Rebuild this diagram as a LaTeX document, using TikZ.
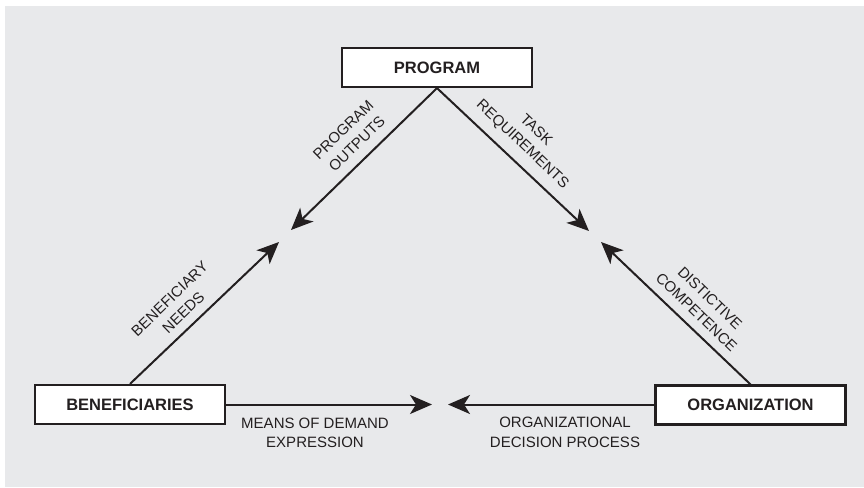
\documentclass[tikz,border=0pt]{standalone}
\usepackage{fontspec}
\setmainfont{Liberation Sans}
\usetikzlibrary{arrows.meta, positioning}
\definecolor{bggray}{RGB}{232,233,235}
\definecolor{inkgray}{RGB}{35,31,32}

\begin{document}
\begin{tikzpicture}[x=1pt, y=-1pt,
        actor/.style={draw=inkgray, line width=2.2pt, fill=white, inner sep=0pt,
            minimum width=190pt, minimum height=39pt, text=inkgray,
            font=\bfseries\fontsize{16.5}{19}\selectfont},
        flow/.style={draw=inkgray, line width=2pt,
            -{Stealth[length=22pt, width=19pt, inset=6pt]}},
        lbl/.style={align=center, inner sep=0pt, text=inkgray,
            font=\fontsize{15}{19.5}\selectfont}]
        \fill[bggray] (5,6) rectangle (864,487);
        \useasboundingbox (0,0) rectangle (864,487);

        \node[actor] (program) at (437,67.5) {PROGRAM};
        \node[actor] (benef) at (130,404.5) {BENEFICIARIES};
        \node[actor] (org) at (750.5,405) {ORGANIZATION};

        \coordinate (outL) at (291,230);
        \coordinate (outR) at (589,231);
        \coordinate (inL) at (279,242);
        \coordinate (inR) at (601,242);
        \coordinate (midL) at (432,404.5);
        \coordinate (midR) at (448,404.5);

        \draw[flow] (program.south) -- (outL);
        \draw[flow] (program.south) -- (outR);
        \draw[flow] (benef.north) -- (inL);
        \draw[flow] (org.north) -- (inR);
        \draw[flow] (benef.east) -- (midL);
        \draw[flow] (org.west |- midR) -- (midR);

        \node[lbl, rotate=44.4] (outputs) at (350,136.7) {PROGRAM\\OUTPUTS};
        \node[lbl, rotate=-43.5] (task) at (529,137.5) {TASK\\REQUIREMENTS};
        \node[lbl, rotate=44] (needs) at (176.5,305.7) {BENEFICIARY\\NEEDS};
        \node[lbl, rotate=-44] (competence) at (703.3,305.3) {DISTICTIVE\\COMPETENCE};
        \node[lbl] (demand) at (315,432.7) {MEANS OF DEMAND\\EXPRESSION};
        \node[lbl] (decision) at (565,432.2) {ORGANIZATIONAL\\DECISION PROCESS};
    \end{tikzpicture}
\end{document}
